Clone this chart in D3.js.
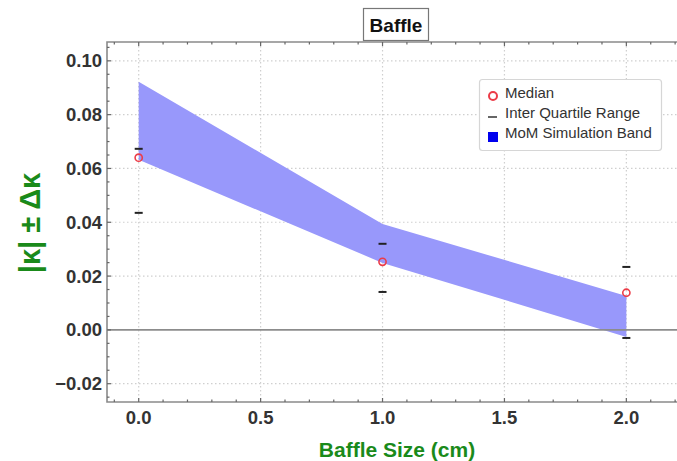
<!DOCTYPE html>
<html>
<head>
<meta charset="utf-8">
<script src="https://cdn.jsdelivr.net/npm/d3@7"></script>
<style>
  html, body { margin: 0; padding: 0; background: #fff; }
  svg { display: block; }
  text { font-family: "Liberation Sans", Arial, sans-serif; }
</style>
</head>
<body>
<svg id="chart" width="677" height="461"></svg>
<script>
// Baffle size (cm) at which each measurement was taken
const sizes = [0, 1, 2];
// Median |kappa| per baffle size
const medians = [0.064, 0.0253, 0.0138];
// Inter-quartile range limits
const iqrLow = [0.0435, 0.0141, -0.003];
const iqrHigh = [0.0673, 0.032, 0.0234];
// MoM simulation band (lower / upper edge)
const bandLow = [0.0632, 0.0249, -0.0026];
const bandHigh = [0.0922, 0.0394, 0.0126];
// Axis ticks
const xTicks = [0, 0.5, 1, 1.5, 2];
const yTicks = [-0.02, 0, 0.02, 0.04, 0.06, 0.08, 0.10];
const legendLabels = ["Median", "Inter Quartile Range", "MoM Simulation Band"];

const svg = d3.select("#chart");
const pLeft = 107, pTop = 42, pBottom = 402, pRight = 680;

const x = d3.scaleLinear().domain([-0.13, 2.22]).range([pLeft, pRight]);
const y = d3.scaleLinear().domain([-0.0268, 0.107]).range([pBottom, pTop]);

const plot = svg.append("g");

// dotted grid
plot.append("g").selectAll("line").data(xTicks).join("line")
  .attr("x1", d => x(d)).attr("x2", d => x(d))
  .attr("y1", pTop).attr("y2", pBottom)
  .attr("stroke", "#cfcfcf").attr("stroke-width", 1.2)
  .attr("stroke-dasharray", "1.5,2.5");
plot.append("g").selectAll("line").data(yTicks.filter(d => d !== 0)).join("line")
  .attr("x1", pLeft).attr("x2", pRight)
  .attr("y1", d => y(d)).attr("y2", d => y(d))
  .attr("stroke", "#cfcfcf").attr("stroke-width", 1.2)
  .attr("stroke-dasharray", "1.5,2.5");

// simulation band
const area = d3.area()
  .x((d, i) => x(sizes[i]))
  .y0((d, i) => y(bandLow[i]))
  .y1((d, i) => y(bandHigh[i]));
plot.append("path").datum(sizes)
  .attr("d", area)
  .attr("fill", "#9898fb");

// zero line
plot.append("line")
  .attr("x1", pLeft).attr("x2", pRight)
  .attr("y1", y(0)).attr("y2", y(0))
  .attr("stroke", "#8c8c8c").attr("stroke-width", 1.6);

// IQR dashes
const iqr = sizes.flatMap((s, i) => [{s, v: iqrLow[i]}, {s, v: iqrHigh[i]}]);
plot.append("g").selectAll("line").data(iqr).join("line")
  .attr("x1", d => x(d.s) - 4).attr("x2", d => x(d.s) + 4)
  .attr("y1", d => y(d.v)).attr("y2", d => y(d.v))
  .attr("stroke", "#222").attr("stroke-width", 2);

// medians
plot.append("g").selectAll("circle").data(sizes).join("circle")
  .attr("cx", d => x(d)).attr("cy", (d, i) => y(medians[i]))
  .attr("r", 3.6)
  .attr("fill", "none").attr("stroke", "#ec3c48").attr("stroke-width", 1.6);

// frame
const frameColor = "#8a8a8a";
plot.append("path")
  .attr("d", `M${pRight},${pTop}H${pLeft}V${pBottom}H${pRight}`)
  .attr("fill", "none").attr("stroke", frameColor).attr("stroke-width", 1.6);

// frame ticks (inward)
const xMinor = d3.range(-1, 23).map(d => d / 10);
const yMinor = d3.range(-5, 22).map(d => d * 0.005);
const tickG = plot.append("g");
xMinor.forEach(v => {
  const major = Math.abs(v * 2 - Math.round(v * 2)) < 1e-9;
  const len = major ? 4 : 2.5;
  tickG.append("line").attr("x1", x(v)).attr("x2", x(v))
    .attr("y1", pBottom).attr("y2", pBottom - len)
    .attr("stroke", "#666").attr("stroke-width", 1.2);
  tickG.append("line").attr("x1", x(v)).attr("x2", x(v))
    .attr("y1", pTop).attr("y2", pTop + len)
    .attr("stroke", "#666").attr("stroke-width", 1.2);
});
yMinor.forEach(v => {
  const major = Math.abs(v / 0.02 - Math.round(v / 0.02)) < 1e-9;
  const len = major ? 4 : 2.5;
  tickG.append("line").attr("x1", pLeft).attr("x2", pLeft + len)
    .attr("y1", y(v)).attr("y2", y(v))
    .attr("stroke", "#666").attr("stroke-width", 1.2);
});

// tick labels
const fmtY = d3.format(".2f");
svg.append("g").selectAll("text").data(yTicks).join("text")
  .attr("x", pLeft - 5).attr("y", d => y(d))
  .attr("dy", "0.35em").attr("text-anchor", "end")
  .attr("font-size", 18.5).attr("font-weight", "bold").attr("fill", "#333")
  .text(d => fmtY(d).replace("-", "\u2212"));
svg.append("g").selectAll("text").data(xTicks).join("text")
  .attr("x", d => x(d)).attr("y", 418)
  .attr("dy", "0.35em").attr("text-anchor", "middle")
  .attr("font-size", 18.5).attr("font-weight", "bold").attr("fill", "#333")
  .text(d => d3.format(".1f")(d));

// axis titles
svg.append("text")
  .attr("x", 397).attr("y", 457)
  .attr("text-anchor", "middle")
  .attr("font-size", 21).attr("font-weight", "bold").attr("fill", "#1a8a1a")
  .text("Baffle Size (cm)");
svg.append("text")
  .attr("transform", "translate(40,223) rotate(-90)")
  .attr("text-anchor", "middle")
  .attr("font-size", 29).attr("font-weight", "bold").attr("fill", "#1a8a1a")
  .text("|\u03BA| \u00B1 \u0394\u03BA");

// title box
const titleG = svg.append("g");
titleG.append("rect")
  .attr("x", 363.5).attr("y", 8.5).attr("width", 65).attr("height", 32)
  .attr("fill", "#fff").attr("stroke", "#777").attr("stroke-width", 1.2);
titleG.append("text")
  .attr("x", 396).attr("y", 25).attr("dy", "0.35em")
  .attr("text-anchor", "middle")
  .attr("font-size", 19).attr("font-weight", "bold").attr("fill", "#111")
  .text("Baffle");

// legend
const lg = svg.append("g");
lg.append("rect")
  .attr("x", 479.5).attr("y", 79.5).attr("width", 182).attr("height", 71).attr("rx", 3)
  .attr("fill", "#fff").attr("stroke", "#d6d6d6").attr("stroke-width", 1.2);
const rowY = [93, 113, 133];
lg.append("circle").attr("cx", 493).attr("cy", rowY[0] + 3).attr("r", 4)
  .attr("fill", "none").attr("stroke", "#ec3c48").attr("stroke-width", 2);
lg.append("line").attr("x1", 488).attr("x2", 497).attr("y1", rowY[1] + 4).attr("y2", rowY[1] + 4)
  .attr("stroke", "#333").attr("stroke-width", 1.5);
lg.append("rect").attr("x", 488).attr("y", rowY[2] - 1).attr("width", 10).attr("height", 10)
  .attr("fill", "#0000ee");
lg.selectAll("text.lbl").data(legendLabels).join("text")
  .attr("class", "lbl")
  .attr("x", 505).attr("y", (d, i) => rowY[i]).attr("dy", "0.35em")
  .attr("font-size", 15).attr("fill", "#333")
  .text(d => d);
</script>
</body>
</html>
